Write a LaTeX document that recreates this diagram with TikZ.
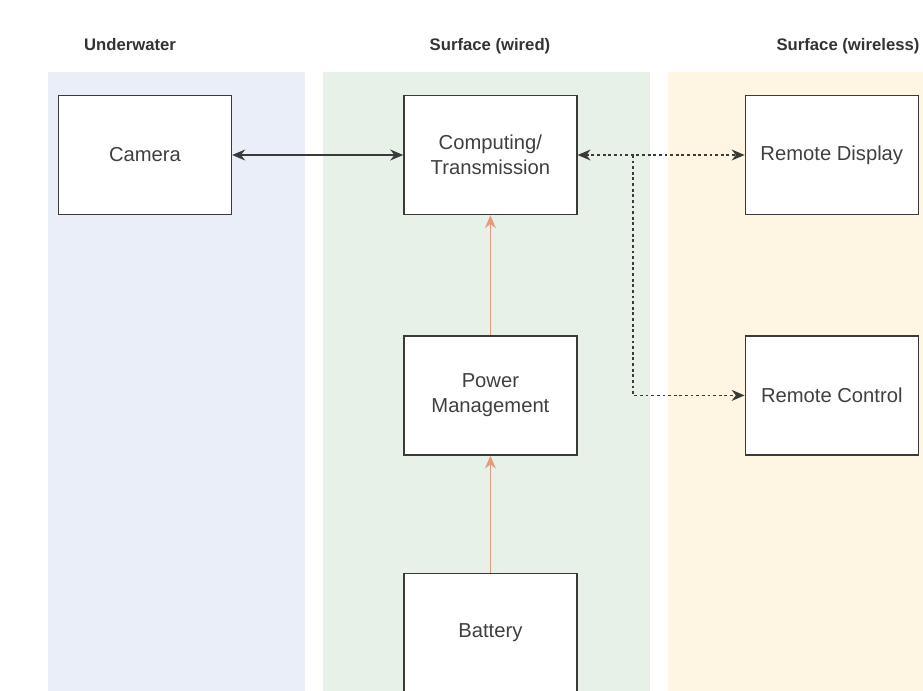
\documentclass[tikz,border=0pt]{standalone}
\usepackage{fontspec}
\setmainfont{Liberation Sans}
\usetikzlibrary{arrows.meta}
\usetikzlibrary{positioning}

\definecolor{laneblue}{HTML}{E9EEF8}
\definecolor{lanegreen}{HTML}{E8F1E7}
\definecolor{laneyellow}{HTML}{FEF5E2}
\definecolor{boxline}{HTML}{3A3A3A}
\definecolor{powerline}{HTML}{E59A7E}

\tikzset{
    >={Stealth[length=2.6mm, width=2.2mm]},
    block/.style={draw=boxline, thick, fill=white, minimum width=3.46cm, minimum height=2.38cm, align=center, font=\fontsize{11.5}{14}\selectfont, text=black!75},
    lane/.style={inner sep=0pt, minimum height=12.38cm, anchor=north west},
    title/.style={font=\bfseries\fontsize{9.5}{12}\selectfont, text=black!80, anchor=base},
    dots/.style={dash pattern=on 1.6pt off 1.6pt}
}

\begin{document}
\begin{tikzpicture}
        \useasboundingbox (0,0) rectangle (18.46,-13.82);

        %% Lanes
        \node[lane, fill=laneblue, minimum width=5.14cm] (uw) at (0.96,-1.44) {};
        \node[lane, fill=lanegreen, minimum width=6.54cm] (wired) at (6.46,-1.44) {};
        \node[lane, fill=laneyellow, minimum width=5.10cm] (wless) at (13.36,-1.44) {};

        \node[title] (uwtitle) at (2.60,-1.0) {Underwater};
        \node[title] (wiredtitle) at (9.80,-1.0) {Surface (wired)};
        \node[title] (wlesstitle) at (16.96,-1.0) {Surface (wireless)};

        %% Blocks
        \node[block] (cam) at (2.90,-3.10) {Camera};
        \node[block, right=3.42cm of cam] (comp) {Computing/\\Transmission};
        \node[block, right=3.34cm of comp] (disp) {Remote Display};
        \node[block, below=2.40cm of comp] (power) {Power\\Management};
        \node[block, below=2.40cm of disp] (ctrl) {Remote Control};
        \node[block, below=2.34cm of power] (batt) {Battery};

        \coordinate (tap) at (12.66,-3.10);

        \draw[<->, thick, boxline] (cam) -- (comp);
        \draw[<->, thick, boxline, dots] (comp) -- (disp);
        \draw[->, thick, boxline, dots] (tap) |- (ctrl.west);

        \draw[->, semithick, powerline] (power) -- (comp);
        \draw[->, semithick, powerline] (batt) -- (power);

    \end{tikzpicture}
\end{document}
